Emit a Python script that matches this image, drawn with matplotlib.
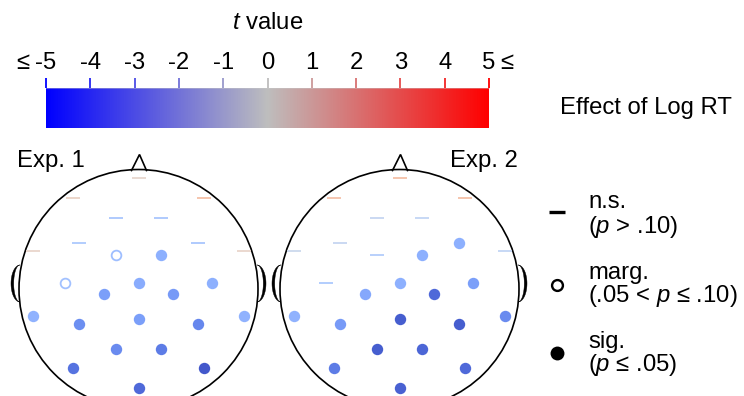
import numpy as np
import matplotlib
matplotlib.use('Agg')
import matplotlib.pyplot as plt
from matplotlib.colors import LinearSegmentedColormap, Normalize
from matplotlib.patches import Circle, Polygon

plt.rcParams['font.family'] = ['Liberation Sans', 'DejaVu Sans']
plt.rcParams['mathtext.fontset'] = 'custom'
plt.rcParams['mathtext.rm'] = 'Liberation Sans'
plt.rcParams['mathtext.it'] = 'Liberation Sans:italic'

# ---------------- data ----------------
electrodes = ['MiPf', 'LLPf', 'RLPf', 'LMPf', 'RMPf', 'LDFr', 'RDFr', 'LLFr', 'RLFr',
              'LMFr', 'RMFr', 'LDCe', 'MiCe', 'RDCe', 'LMCe', 'RMCe', 'LLTe', 'RLTe',
              'MiPa', 'LDPa', 'RDPa', 'LMOc', 'RMOc', 'LLOc', 'RLOc', 'MiOc']
exp1_t = [0.4, 0.6, 1.4, -1.7, -1.7, -1.6, -1.7, 0.5, 0.5,
          -2.0, -2.5, -1.9, -2.6, -2.5, -3.0, -3.1, -2.4, -2.4,
          -3.0, -3.4, -3.6, -3.5, -3.9, -4.1, -4.7, -4.3]
exp1_sig = ['ns', 'ns', 'ns', 'ns', 'ns', 'ns', 'ns', 'ns', 'ns',
            'marg', 'sig', 'marg', 'sig', 'sig', 'sig', 'sig', 'sig', 'sig',
            'sig', 'sig', 'sig', 'sig', 'sig', 'sig', 'sig', 'sig']
exp2_t = [1.4, 1.3, 1.4, -0.8, -0.9, -0.8, -2.5, -0.6, -0.9,
          -1.4, -2.5, -1.6, -2.5, -3.0, -2.7, -4.3, -2.4, -3.5,
          -4.6, -3.1, -4.6, -4.6, -4.4, -3.9, -4.3, -4.5]
exp2_sig = ['ns', 'ns', 'ns', 'ns', 'ns', 'ns', 'sig', 'ns', 'ns',
            'ns', 'sig', 'ns', 'sig', 'sig', 'sig', 'sig', 'sig', 'sig',
            'sig', 'sig', 'sig', 'sig', 'sig', 'sig', 'sig', 'sig']
tick_values = [-5, -4, -3, -2, -1, 0, 1, 2, 3, 4, 5]
tick_labels = ['-5', '-4', '-3', '-2', '-1', '0', '1', '2', '3', '4', '5']
exp_titles = ['Exp. 1', 'Exp. 2']

# ---------------- layout (head units: centre 0,0, radius 1, y up) ----------------
layout = {'MiPf': (0, 0.925), 'LLPf': (-0.55, 0.758), 'RLPf': (0.55, 0.758),
          'LMPf': (-0.19, 0.592), 'RMPf': (0.19, 0.592), 'LDFr': (-0.5, 0.383),
          'RDFr': (0.5, 0.383), 'LLFr': (-0.88, 0.317), 'RLFr': (0.88, 0.317),
          'LMFr': (-0.185, 0.283), 'RMFr': (0.185, 0.283), 'LDCe': (-0.615, 0.05),
          'MiCe': (0, 0.05), 'RDCe': (0.615, 0.05), 'LMCe': (-0.29, -0.04),
          'RMCe': (0.29, -0.04), 'LLTe': (-0.88, -0.225), 'RLTe': (0.88, -0.225),
          'MiPa': (0, -0.25), 'LDPa': (-0.5, -0.292), 'RDPa': (0.5, -0.292),
          'LMOc': (-0.19, -0.5), 'RMOc': (0.19, -0.5), 'LLOc': (-0.55, -0.658),
          'RLOc': (0.55, -0.658), 'MiOc': (0, -0.825)}

FS = 17.2
W, H = 744, 396
fig = plt.figure(figsize=(W / 100, H / 100), dpi=100)
ax = fig.add_axes([0, 0, 1, 1])
ax.set_xlim(0, W)
ax.set_ylim(H, 0)
ax.set_aspect('equal')
ax.axis('off')

# ---------------- colour bar ----------------
bar_cmap = LinearSegmentedColormap.from_list('bgr', ['#0000ff', '#bebebe', '#ff0000'])
norm = Normalize(-5, 5)
bx0, bx1, by0, by1 = 46, 489, 88, 128
grad = np.linspace(-5, 5, 512)[None, :]
ax.imshow(grad, cmap=bar_cmap, norm=norm, extent=[bx0, bx1, by1, by0], aspect='auto', zorder=1)
for v, lab in zip(tick_values, tick_labels):
    x = bx0 + (v + 5) / 10 * (bx1 - bx0)
    ax.plot([x, x], [by0, by0 - 10], color=bar_cmap(norm(v)), lw=1.3, solid_capstyle='butt')
    ax.text(x, 63, lab, ha='center', va='center', fontsize=FS)
ax.plot([bx0, bx1], [by0, by0], color='#c8c8c8', lw=0.6, alpha=0.5)
ax.text(29, 63, '≤', ha='right', va='center', fontsize=FS)
ax.text(500, 63, '≤', ha='left', va='center', fontsize=FS)
ax.text(268, 23, '$t$ value', ha='center', va='center', fontsize=FS)

# ---------------- heads ----------------
el_cmap = plt.get_cmap('coolwarm')
heads = [(138.5, 289.0), (399.5, 289.0)]
R = 119.5
for (cx, cy), ts, sg in zip(heads, [exp1_t, exp2_t], [exp1_sig, exp2_sig]):
    ax.add_patch(Circle((cx, cy), R, fill=False, ec='black', lw=1.2, zorder=2))
    # nose
    ax.plot([cx - 7, cx + 1, cx + 8], [cy - R + 1, cy - R - 15, cy - R + 1], color='black', lw=1.2,
            solid_joinstyle='miter', zorder=2)
    # ears
    th = np.linspace(-np.pi / 2, np.pi / 2, 60)
    for side in (-1, 1):
        ex = cx + side * (R - 1)
        ecy = cy - 5.5
        outer = np.column_stack([ex + side * 9 * np.cos(th), ecy + 18.5 * np.sin(th)])
        inner = np.column_stack([ex + side * 6.3 * np.cos(th[::-1]), ecy + 18.5 * np.sin(th[::-1])])
        ax.add_patch(Polygon(np.vstack([outer, inner]), closed=True, fc='black', ec='black', lw=0.3, zorder=2))
    for name, t, s in zip(electrodes, ts, sg):
        ux, uy = layout[name]
        x, y = cx + R * ux, cy - R * uy
        c = el_cmap(norm(t))
        if s == 'ns':
            ax.plot([x], [y], marker='_', ms=9.5, mew=1.3, color=c, zorder=3)
        elif s == 'marg':
            ax.plot([x], [y], marker='o', ms=7.0, mew=1.3, mfc='white', mec=c, zorder=3)
        else:
            ax.plot([x], [y], marker='o', ms=8.2, mew=0, color=c, zorder=3)

ax.text(17, 161, exp_titles[0], ha='left', va='center', fontsize=FS)
ax.text(518, 161, exp_titles[1], ha='right', va='center', fontsize=FS)

# ---------------- legend ----------------
ax.text(646, 108, 'Effect of Log RT', ha='center', va='center', fontsize=FS)
lx, tx = 557, 588
ax.plot([lx], [212], marker='_', ms=11, mew=2.4, color='black')
ax.text(tx, 202, 'n.s.', ha='left', va='center', fontsize=FS)
ax.text(tx, 227, '($p$ > .10)', ha='left', va='center', fontsize=FS)
ax.plot([lx], [285], marker='o', ms=7.8, mew=1.7, mfc='white', mec='black')
ax.text(tx, 273, 'marg.', ha='left', va='center', fontsize=FS)
ax.text(tx, 296, '(.05 < $p$ ≤ .10)', ha='left', va='center', fontsize=FS)
ax.plot([lx], [353], marker='o', ms=10, mew=0, color='black')
ax.text(tx, 342, 'sig.', ha='left', va='center', fontsize=FS)
ax.text(tx, 365, '($p$ ≤ .05)', ha='left', va='center', fontsize=FS)

fig.savefig('out.png', dpi=100)
